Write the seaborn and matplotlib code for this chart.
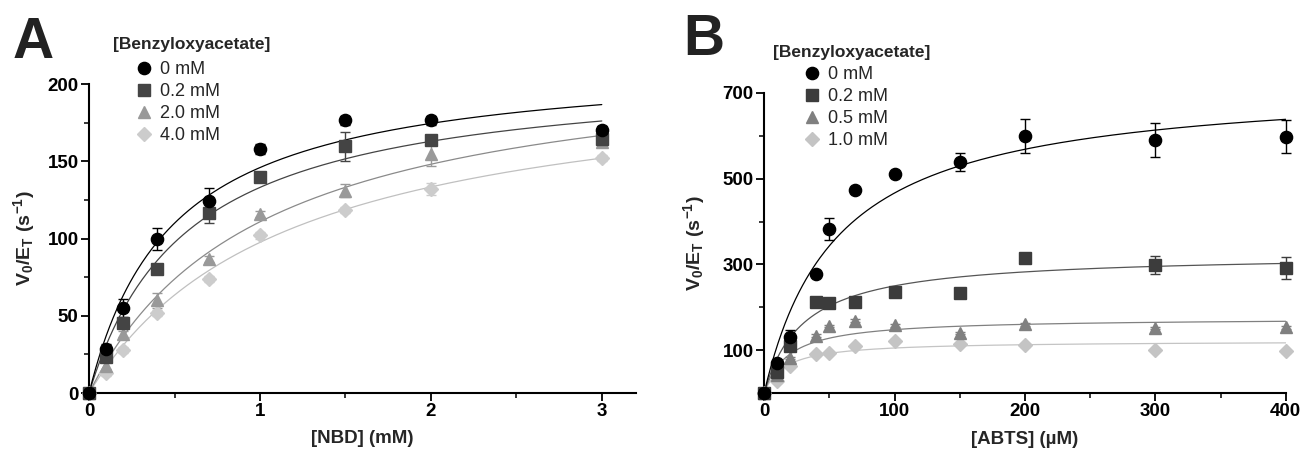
import numpy as np
import pandas as pd
import matplotlib
matplotlib.use('Agg')
import matplotlib.pyplot as plt
import seaborn as sns
from matplotlib.ticker import MultipleLocator, FixedLocator

# ---- Panel A: NBD kinetics at several benzyloxyacetate concentrations
nbd_x = [0, 0.1, 0.2, 0.4, 0.7, 1.0, 1.5, 2.0, 3.0]
a_labels = ['0 mM', '0.2 mM', '2.0 mM', '4.0 mM']
a_v0 = [0, 28.6, 55, 99.7, 124, 158, 176.6, 176.6, 170]
a_v02 = [0, 23, 45.5, 80, 116.6, 140, 159.7, 163.6, 164.7]
a_v20 = [0, 17.8, 38, 60, 86.7, 116, 131, 155, 162.5]
a_v40 = [0, 13, 28, 51.6, 74, 102, 118.5, 132, 152]
a_err0 = [0, 3, 6, 7, 8.5, 3, 3, 3, 3]
a_err02 = [0, 3, 3, 3, 6.5, 3, 9.5, 3, 3]
a_err20 = [0, 2, 2, 5, 2, 2, 4, 8, 3]
a_err40 = [0, 2, 2, 2, 2, 2, 2, 4, 2]
# Michaelis-Menten fit parameters (Vmax, Km)
a_vmax = [217, 210, 223, 211]
a_km = [0.487, 0.578, 1.012, 1.164]

# ---- Panel B: ABTS kinetics
abts_x = [0, 10, 20, 40, 50, 70, 100, 150, 200, 300, 400]
b_labels = ['0 mM', '0.2 mM', '0.5 mM', '1.0 mM']
b_v0 = [0, 70, 130, 277, 383, 473, 510, 539, 600, 590, 598]
b_v02 = [0, 48, 110, 212, 210, 212.7, 236, 234, 314, 298, 291]
b_v05 = [0, 43, 82, 134, 156, 169, 158, 140, 160, 152, 153]
b_v10 = [0, 27, 62, 90, 93.5, 109, 122, 114.5, 111, 100, 97]
b_err0 = [0, 5, 16, 5, 26, 5, 5, 22, 40, 39, 39]
b_err02 = [0, 5, 5, 5, 5, 5, 5, 5, 5, 21, 26]
b_err05 = [0, 3, 3, 3, 3, 3, 3, 3, 3, 3, 3]
b_err10 = [0, 3, 3, 3, 3, 3, 3, 3, 3, 3, 3]
b_vmax = [728, 325, 175, 121.6]
b_km = [56, 30, 18.4, 15.8]

markers = ['o', 's', '^', 'D']
msizes = [8.8, 8.4, 8.6, 6.8]
a_colors = ['#000000', '#444444', '#999999', '#cccccc']
b_colors = ['#000000', '#3c3c3c', '#808080', '#c4c4c4']
a_line = ['#000000', '#444444', '#8a8a8a', '#c0c0c0']
b_line = ['#000000', '#555555', '#808080', '#c4c4c4']

sns.set_theme(style='ticks')
plt.rcParams['font.family'] = ['Liberation Sans', 'DejaVu Sans']
plt.rcParams['mathtext.fontset'] = 'custom'
plt.rcParams['mathtext.bf'] = 'Liberation Sans:bold'
plt.rcParams['mathtext.rm'] = 'Liberation Sans:bold'
plt.rcParams['mathtext.it'] = 'Liberation Sans:bold'

fig = plt.figure(figsize=(13.04, 4.51), dpi=100)
axA = fig.add_axes([0.0683, 0.1286, 0.4194, 0.6851])
axB = fig.add_axes([0.586, 0.1286, 0.400, 0.6652])


def draw_panel(ax, x, series, errs, labels, vmax, km, colors, lcolors, xmax_fit):
    xs = np.linspace(0, xmax_fit, 300)
    for i in reversed(range(len(series))):
        fit = pd.DataFrame({'x': xs, 'y': vmax[i] * xs / (km[i] + xs)})
        sns.lineplot(data=fit, x='x', y='y', ax=ax, color=lcolors[i], lw=0.9,
                     legend=False, zorder=2)
        ax.errorbar(x, series[i], yerr=errs[i], fmt='none', ecolor=colors[i],
                    elinewidth=1.0, capsize=3.5, capthick=1.0, zorder=3, clip_on=False)
        ax.plot(x, series[i], ls='none', marker=markers[i], ms=msizes[i],
                color=colors[i], mec=colors[i], label=labels[i], zorder=4 + (3 - i),
                clip_on=False)


draw_panel(axA, nbd_x, [a_v0, a_v02, a_v20, a_v40], [a_err0, a_err02, a_err20, a_err40],
           a_labels, a_vmax, a_km, a_colors, a_line, 3.0)
draw_panel(axB, abts_x, [b_v0, b_v02, b_v05, b_v10], [b_err0, b_err02, b_err05, b_err10],
           b_labels, b_vmax, b_km, b_colors, b_line, 400)

for ax in (axA, axB):
    sns.despine(ax=ax)
    for s in ('left', 'bottom'):
        ax.spines[s].set_linewidth(1.5)
        ax.spines[s].set_color('black')
    ax.tick_params(which='major', length=5.5, width=1.3, labelsize=13.5, pad=2, colors='black')
    ax.tick_params(which='minor', length=3.5, width=1.3)

axA.set_xlim(0, 3.2)
axA.set_ylim(0, 200)
axA.xaxis.set_major_locator(FixedLocator([0, 1, 2, 3]))
axA.xaxis.set_minor_locator(FixedLocator([0.5, 1.5, 2.5]))
axA.yaxis.set_major_locator(MultipleLocator(50))
axA.yaxis.set_minor_locator(MultipleLocator(25))

axB.set_xlim(0, 400)
axB.set_ylim(0, 700)
axB.xaxis.set_major_locator(MultipleLocator(100))
axB.xaxis.set_minor_locator(MultipleLocator(50))
axB.yaxis.set_major_locator(FixedLocator([100, 300, 500, 700]))
axB.yaxis.set_minor_locator(FixedLocator([200, 400, 600]))

for ax in (axA, axB):
    for lab in ax.get_xticklabels() + ax.get_yticklabels():
        lab.set_fontweight('bold')

ylab = r'$\mathbf{V_0/E_T\ (s^{-1})}$'
axA.set_xlabel('[NBD] (mM)', fontsize=13.5, fontweight='bold')
axA.set_ylabel(ylab, fontsize=14)
axA.xaxis.set_label_coords(0.5, -0.12)
axA.yaxis.set_label_coords(-0.095, 0.5)
axB.set_xlabel('[ABTS] (\u00b5M)', fontsize=13.5, fontweight='bold')
axB.set_ylabel(ylab, fontsize=14)
axB.xaxis.set_label_coords(0.5, -0.125)
axB.yaxis.set_label_coords(-0.109, 0.5)

# legends: bold title as separate text, entries indented below it
for ax, title_xy, leg_xy in ((axA, (113, 44), (137, 61)), (axB, (773, 53), (805, 66))):
    fig.text(title_xy[0] / 1304, 1 - title_xy[1] / 451, '[Benzyloxyacetate]',
             fontsize=12.5, fontweight='bold', va='center', ha='left')
    h, l = ax.get_legend_handles_labels()
    h, l = h[::-1], l[::-1]
    ax.legend(h, l, loc='upper left',
              bbox_to_anchor=(leg_xy[0] / 1304, 1 - leg_xy[1] / 451),
              bbox_transform=fig.transFigure, frameon=False, fontsize=13,
              handlelength=0.8, handletextpad=0.5, labelspacing=0.28,
              borderpad=0, borderaxespad=0)

fig.text(13 / 1304, 1 - 58 / 451, 'A', fontsize=41, fontweight='bold', va='baseline',
         color='#222222')
fig.text(683 / 1304, 1 - 55 / 451, 'B', fontsize=41, fontweight='bold', va='baseline',
         color='#222222')

fig.savefig('out.png', dpi=100)
